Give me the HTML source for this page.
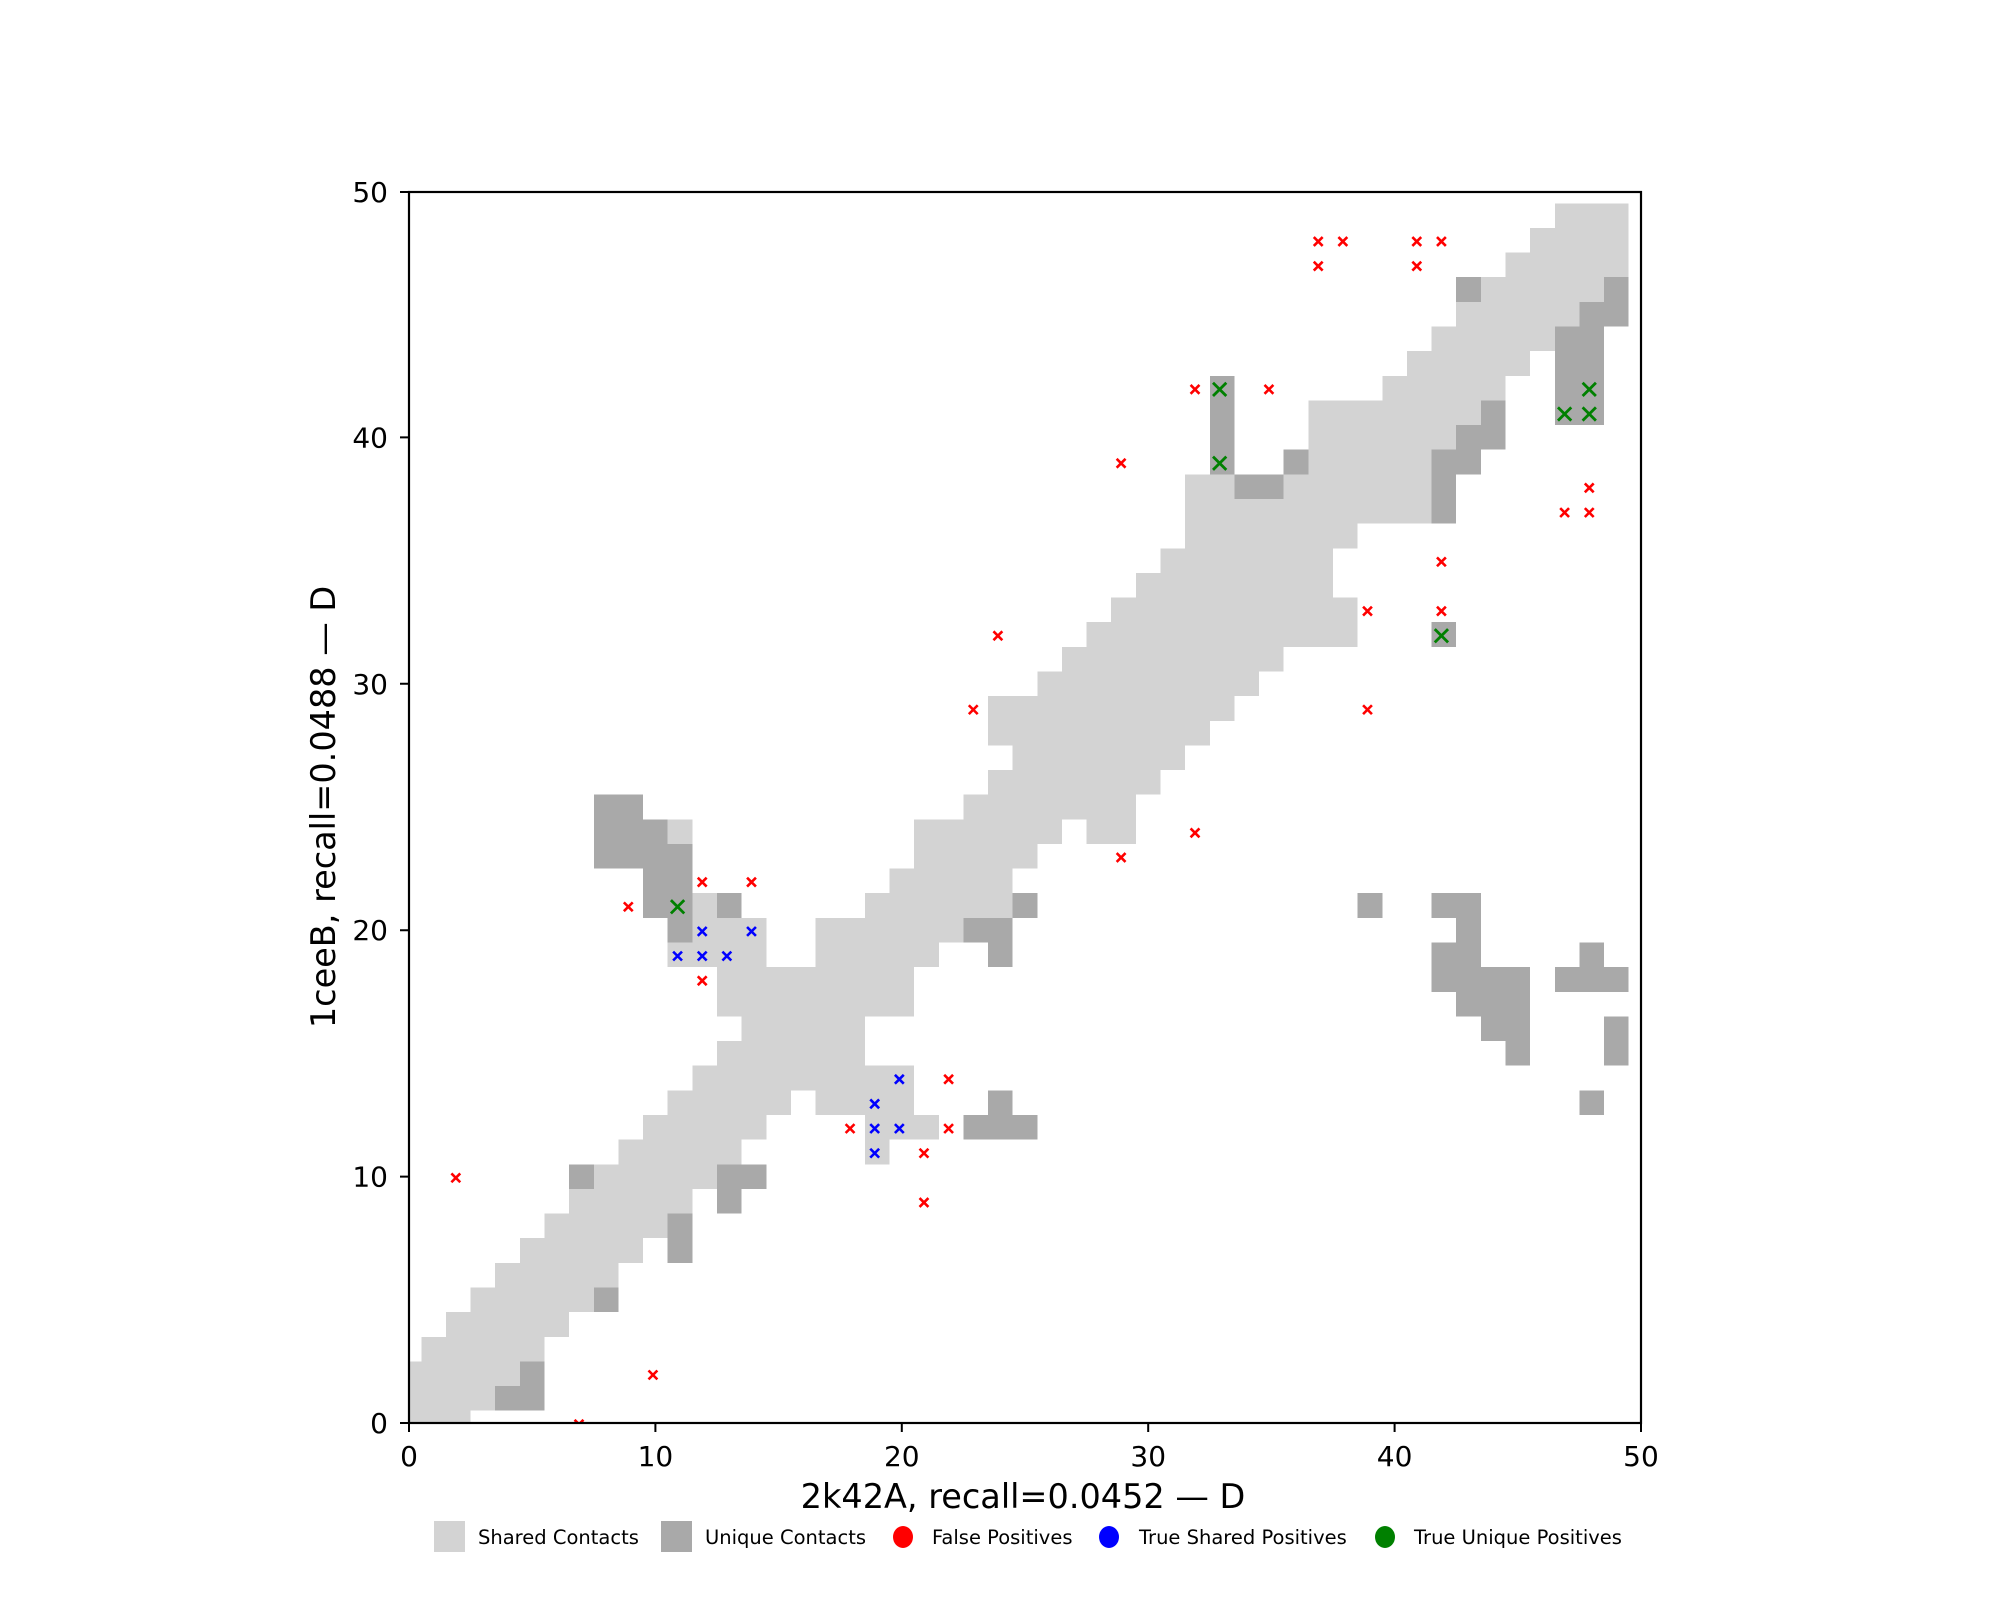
<!DOCTYPE html>
<html><head><meta charset="utf-8"><style>html,body{margin:0;padding:0;background:#fff}svg{display:block}</style></head>
<body>
<svg xmlns="http://www.w3.org/2000/svg" width="2000" height="1600" viewBox="0 0 2000 1600" font-family="'DejaVu Sans','Liberation Sans',sans-serif">
<defs>
<clipPath id="c"><rect x="0" y="0" width="50" height="50"/></clipPath>
<path id="r" d="M-0.18,-0.18L0.18,0.18M-0.18,0.18L0.18,-0.18" stroke="#ff0000" stroke-width="2.6" vector-effect="non-scaling-stroke" fill="none"/>
<path id="b" d="M-0.18,-0.18L0.18,0.18M-0.18,0.18L0.18,-0.18" stroke="#0000ff" stroke-width="2.6" vector-effect="non-scaling-stroke" fill="none"/>
<path id="g" d="M-0.27,-0.27L0.27,0.27M-0.27,0.27L0.27,-0.27" stroke="#008000" stroke-width="2.8" vector-effect="non-scaling-stroke" fill="none"/>
</defs>
<rect width="2000" height="1600" fill="#fff"/>
<g transform="translate(409,1423) scale(24.64,-24.64)" clip-path="url(#c)" shape-rendering="crispEdges">
<g fill="#d3d3d3">
<rect x="-0.5" y="-0.5" width="3" height="1"/>
<rect x="-0.5" y="0.5" width="4" height="1"/>
<rect x="-0.5" y="1.5" width="5" height="1"/>
<rect x="0.5" y="2.5" width="5" height="1"/>
<rect x="1.5" y="3.5" width="5" height="1"/>
<rect x="2.5" y="4.5" width="5" height="1"/>
<rect x="3.5" y="5.5" width="5" height="1"/>
<rect x="4.5" y="6.5" width="5" height="1"/>
<rect x="5.5" y="7.5" width="5" height="1"/>
<rect x="6.5" y="8.5" width="5" height="1"/>
<rect x="7.5" y="9.5" width="5" height="1"/>
<rect x="8.5" y="10.5" width="5" height="1"/>
<rect x="18.5" y="10.5" width="1" height="1"/>
<rect x="9.5" y="11.5" width="5" height="1"/>
<rect x="18.5" y="11.5" width="3" height="1"/>
<rect x="10.5" y="12.5" width="5" height="1"/>
<rect x="16.5" y="12.5" width="4" height="1"/>
<rect x="11.5" y="13.5" width="9" height="1"/>
<rect x="12.5" y="14.5" width="6" height="1"/>
<rect x="13.5" y="15.5" width="5" height="1"/>
<rect x="12.5" y="16.5" width="8" height="1"/>
<rect x="12.5" y="17.5" width="8" height="1"/>
<rect x="10.5" y="18.5" width="4" height="1"/>
<rect x="16.5" y="18.5" width="5" height="1"/>
<rect x="11.5" y="19.5" width="3" height="1"/>
<rect x="16.5" y="19.5" width="6" height="1"/>
<rect x="11.5" y="20.5" width="1" height="1"/>
<rect x="18.5" y="20.5" width="6" height="1"/>
<rect x="19.5" y="21.5" width="5" height="1"/>
<rect x="20.5" y="22.5" width="5" height="1"/>
<rect x="10.5" y="23.5" width="1" height="1"/>
<rect x="20.5" y="23.5" width="6" height="1"/>
<rect x="27.5" y="23.5" width="2" height="1"/>
<rect x="22.5" y="24.5" width="7" height="1"/>
<rect x="23.5" y="25.5" width="7" height="1"/>
<rect x="24.5" y="26.5" width="7" height="1"/>
<rect x="23.5" y="27.5" width="9" height="1"/>
<rect x="23.5" y="28.5" width="10" height="1"/>
<rect x="25.5" y="29.5" width="9" height="1"/>
<rect x="26.5" y="30.5" width="9" height="1"/>
<rect x="27.5" y="31.5" width="11" height="1"/>
<rect x="28.5" y="32.5" width="10" height="1"/>
<rect x="29.5" y="33.5" width="8" height="1"/>
<rect x="30.5" y="34.5" width="7" height="1"/>
<rect x="31.5" y="35.5" width="7" height="1"/>
<rect x="31.5" y="36.5" width="10" height="1"/>
<rect x="31.5" y="37.5" width="2" height="1"/>
<rect x="35.5" y="37.5" width="6" height="1"/>
<rect x="36.5" y="38.5" width="5" height="1"/>
<rect x="36.5" y="39.5" width="6" height="1"/>
<rect x="36.5" y="40.5" width="7" height="1"/>
<rect x="39.5" y="41.5" width="5" height="1"/>
<rect x="40.5" y="42.5" width="5" height="1"/>
<rect x="41.5" y="43.5" width="5" height="1"/>
<rect x="42.5" y="44.5" width="5" height="1"/>
<rect x="43.5" y="45.5" width="5" height="1"/>
<rect x="44.5" y="46.5" width="5" height="1"/>
<rect x="45.5" y="47.5" width="4" height="1"/>
<rect x="46.5" y="48.5" width="3" height="1"/>
</g>
<g fill="#a9a9a9">
<rect x="3.5" y="0.5" width="2" height="1"/>
<rect x="4.5" y="1.5" width="1" height="1"/>
<rect x="7.5" y="4.5" width="1" height="1"/>
<rect x="10.5" y="6.5" width="1" height="2"/>
<rect x="12.5" y="8.5" width="1" height="2"/>
<rect x="13.5" y="9.5" width="1" height="1"/>
<rect x="6.5" y="9.5" width="1" height="1"/>
<rect x="22.5" y="11.5" width="3" height="1"/>
<rect x="23.5" y="12.5" width="1" height="1"/>
<rect x="47.5" y="12.5" width="1" height="1"/>
<rect x="44.5" y="14.5" width="1" height="2"/>
<rect x="48.5" y="14.5" width="1" height="2"/>
<rect x="43.5" y="15.5" width="1" height="1"/>
<rect x="42.5" y="16.5" width="3" height="1"/>
<rect x="41.5" y="17.5" width="4" height="1"/>
<rect x="46.5" y="17.5" width="3" height="1"/>
<rect x="41.5" y="18.5" width="2" height="1"/>
<rect x="47.5" y="18.5" width="1" height="1"/>
<rect x="23.5" y="18.5" width="1" height="2"/>
<rect x="22.5" y="19.5" width="1" height="1"/>
<rect x="10.5" y="19.5" width="1" height="1"/>
<rect x="42.5" y="19.5" width="1" height="1"/>
<rect x="9.5" y="20.5" width="2" height="2"/>
<rect x="12.5" y="20.5" width="1" height="1"/>
<rect x="24.5" y="20.5" width="1" height="1"/>
<rect x="38.5" y="20.5" width="1" height="1"/>
<rect x="41.5" y="20.5" width="2" height="1"/>
<rect x="7.5" y="22.5" width="4" height="1"/>
<rect x="7.5" y="23.5" width="3" height="1"/>
<rect x="7.5" y="24.5" width="2" height="1"/>
<rect x="41.5" y="31.5" width="1" height="1"/>
<rect x="41.5" y="36.5" width="1" height="2"/>
<rect x="33.5" y="37.5" width="2" height="1"/>
<rect x="32.5" y="38.5" width="1" height="4"/>
<rect x="35.5" y="38.5" width="1" height="1"/>
<rect x="41.5" y="38.5" width="2" height="1"/>
<rect x="42.5" y="39.5" width="2" height="1"/>
<rect x="43.5" y="40.5" width="1" height="1"/>
<rect x="46.5" y="40.5" width="2" height="4"/>
<rect x="47.5" y="44.5" width="2" height="1"/>
<rect x="42.5" y="45.5" width="1" height="1"/>
<rect x="48.5" y="45.5" width="1" height="1"/>
</g>
<g shape-rendering="auto" transform="translate(-0.1,-0.05)">
<use href="#r" x="37" y="48"/><use href="#r" x="38" y="48"/><use href="#r" x="41" y="48"/><use href="#r" x="42" y="48"/>
<use href="#r" x="37" y="47"/><use href="#r" x="41" y="47"/><use href="#r" x="32" y="42"/><use href="#r" x="35" y="42"/>
<use href="#r" x="29" y="39"/><use href="#r" x="48" y="38"/><use href="#r" x="47" y="37"/><use href="#r" x="48" y="37"/>
<use href="#r" x="42" y="35"/><use href="#r" x="39" y="33"/><use href="#r" x="42" y="33"/><use href="#r" x="24" y="32"/>
<use href="#r" x="23" y="29"/><use href="#r" x="39" y="29"/><use href="#r" x="32" y="24"/><use href="#r" x="29" y="23"/>
<use href="#r" x="12" y="22"/><use href="#r" x="14" y="22"/><use href="#r" x="9" y="21"/><use href="#r" x="12" y="18"/>
<use href="#r" x="22" y="14"/><use href="#r" x="18" y="12"/><use href="#r" x="22" y="12"/><use href="#r" x="21" y="11"/>
<use href="#r" x="21" y="9"/><use href="#r" x="2" y="10"/><use href="#r" x="10" y="2"/><use href="#r" x="7" y="0"/>
<use href="#b" x="12" y="20"/><use href="#b" x="14" y="20"/><use href="#b" x="11" y="19"/><use href="#b" x="12" y="19"/>
<use href="#b" x="13" y="19"/><use href="#b" x="20" y="14"/><use href="#b" x="19" y="13"/><use href="#b" x="19" y="12"/>
<use href="#b" x="20" y="12"/><use href="#b" x="19" y="11"/>
<use href="#g" x="33" y="42"/><use href="#g" x="33" y="39"/><use href="#g" x="48" y="42"/><use href="#g" x="47" y="41"/>
<use href="#g" x="48" y="41"/><use href="#g" x="42" y="32"/><use href="#g" x="11" y="21"/>
</g>
</g>
<rect x="409" y="192" width="1232" height="1231" fill="none" stroke="#000" stroke-width="2.2"/>
<g stroke="#000" stroke-width="2">
<path d="M409,1423v9M655.4,1423v9M901.8,1423v9M1148.2,1423v9M1394.6,1423v9M1641,1423v9"/>
<path d="M409,1423h-9M409,1176.6h-9M409,930.2h-9M409,683.8h-9M409,437.4h-9M409,192h-9"/>
</g>
<g font-size="28" fill="#000" text-anchor="middle">
<text x="409" y="1466">0</text><text x="655.4" y="1466">10</text><text x="901.8" y="1466">20</text>
<text x="1148.2" y="1466">30</text><text x="1394.6" y="1466">40</text><text x="1641" y="1466">50</text>
</g>
<g font-size="28" fill="#000" text-anchor="end">
<text x="388" y="1433">0</text><text x="388" y="1186.6">10</text><text x="388" y="940.2">20</text>
<text x="388" y="693.8">30</text><text x="388" y="447.4">40</text><text x="388" y="202">50</text>
</g>
<text x="1023" y="1508" font-size="33.5" text-anchor="middle">2k42A, recall=0.0452 — D</text>
<text transform="translate(335,807) rotate(-90)" font-size="33.5" text-anchor="middle">1ceeB, recall=0.0488 — D</text>
<g font-size="19.5" fill="#000">
<rect x="434" y="1521" width="31" height="31" fill="#d3d3d3"/>
<text x="478" y="1544">Shared Contacts</text>
<rect x="661" y="1521" width="31" height="31" fill="#a9a9a9"/>
<text x="705" y="1544">Unique Contacts</text>
<ellipse cx="903" cy="1537" rx="10" ry="11" fill="#ff0000"/>
<text x="932" y="1544">False Positives</text>
<ellipse cx="1109" cy="1537" rx="10" ry="11" fill="#0000ff"/>
<text x="1139" y="1544">True Shared Positives</text>
<ellipse cx="1385" cy="1537" rx="10" ry="11" fill="#008000"/>
<text x="1414" y="1544">True Unique Positives</text>
</g>
</svg>
</body></html>
